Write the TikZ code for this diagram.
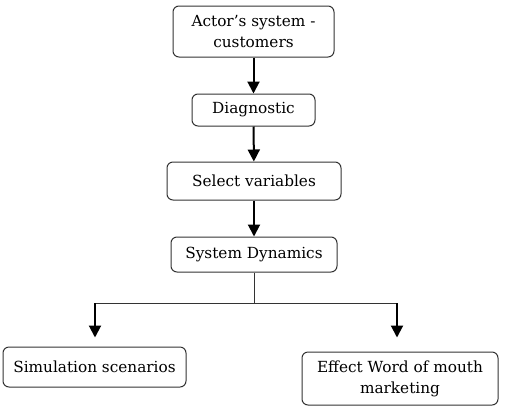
\documentclass[tikz,border=0pt]{standalone}
\usepackage{fontspec}
\setmainfont{DejaVu Serif}
\usetikzlibrary{arrows.meta,positioning,calc}

\begin{document}
\begin{tikzpicture}[
  x=1pt, y=-1pt,
  box/.style={
    draw=black!80, line width=1pt, rounded corners=6pt,
    fill=white, font=\fontsize{15.3}{21}\selectfont, text=black,
    align=center, inner sep=0pt
  },
  link/.style={black!80, line width=0.8pt},
  arrow/.style={-{Triangle[length=12pt,width=12pt]}, black, line width=2pt},
]
  \useasboundingbox (0,0) rectangle (505,410);

  % Cadena principal
  \node[box, minimum width=161pt, minimum height=51pt] (actor) at (253.5,31.5)
    {Actor’s system -\\customers};
  \node[box, minimum width=123pt, minimum height=32pt] (diag) at (253.5,110)
    {Diagnostic};
  \node[box, minimum width=174pt, minimum height=38pt] (select) at (254,181)
    {Select variables};
  \node[box, minimum width=166pt, minimum height=35pt] (sysdyn) at (254,254.5)
    {System Dynamics};

  % Resultados
  \node[box, minimum width=183pt, minimum height=40pt] (sim) at (94.5,367)
    {Simulation scenarios};
  \node[box, minimum width=196pt, minimum height=53pt] (wom) at (400,378.5)
    {Effect Word of mouth\\marketing};

  % Flechas verticales
  \draw[arrow] (actor) -- (diag);
  \draw[arrow] (diag) -- (select);
  \draw[arrow] (select) -- (sysdyn);

  % Bifurcacion
  \coordinate (fork)  at (254,303);
  \coordinate (forkL) at (95,303);
  \coordinate (forkR) at (397,303);
  \draw[link] (sysdyn) -- (fork);
  \draw[link] (forkL) -- (forkR);
  \draw[arrow, shorten >=9pt]  (forkL) -- (forkL |- sim.north);
  \draw[arrow, shorten >=14pt] (forkR) -- (forkR |- wom.north);

\end{tikzpicture}
\end{document}
